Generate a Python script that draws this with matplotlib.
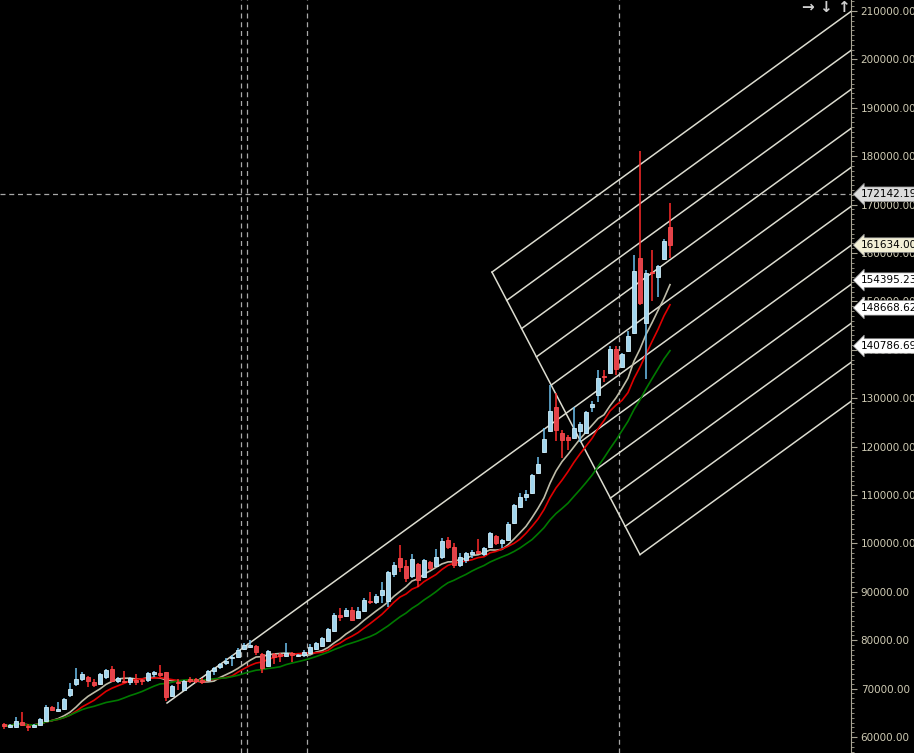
import numpy as np
import pandas as pd
import matplotlib
matplotlib.use('Agg')
import matplotlib.pyplot as plt
from matplotlib.ticker import MultipleLocator, FormatStrFormatter

# 日线 K 线数据 (开 / 高 / 低 / 收)
opens = [62695, 62075, 62075, 63108, 62281, 62075, 62488, 63314, 66207, 65380,
         65794, 68686, 70959, 71992, 72405, 71372, 70959, 72405, 74057, 71579,
         71579, 71372, 71785, 71785, 71785, 73025, 73232, 73438, 68479, 71372,
         69719, 71992, 71992, 71785, 71785, 73645, 74471, 75297, 76331, 76537,
         78190, 78604, 78810, 77157, 74677, 77157, 77157, 76744, 77364, 76744,
         76951, 77364, 78190, 78810, 79843, 81909, 85214, 85008, 86247, 84595,
         86041, 88106, 87900, 89346, 88106, 93685, 96990, 95338, 93272, 95751,
         93065, 96164, 95338, 97197, 100709, 99263, 95545, 96577, 97817, 98436,
         97817, 99263, 101536, 100089, 100709, 104221, 107527, 109593, 110419, 114551,
         118890, 123228, 128186, 122815, 121989, 121782, 123228, 122815, 128186, 130666,
         134591, 135211, 140170, 136451, 139757, 143476, 158970, 145541, 156078, 155045,
         158764, 165375]
highs = [62901, 62695, 64141, 65174, 62695, 62695, 63934, 66620, 66413, 67240,
         68066, 71165, 74264, 73438, 72612, 71992, 73232, 74057, 74677, 72405,
         73645, 72405, 73025, 71992, 73438, 73645, 74884, 73500, 70752, 71992,
         71785, 72405, 72199, 72199, 73851, 74471, 75297, 76331, 76951, 78397,
         79430, 80049, 79017, 77364, 77983, 77364, 77364, 79430, 77570, 77157,
         77983, 79223, 79636, 80669, 82529, 85628, 86660, 86660, 86867, 86867,
         88726, 89966, 89553, 92032, 94305, 96164, 99676, 96577, 97817, 95957,
         96784, 96371, 98850, 101122, 101329, 100089, 98023, 98230, 98643, 100916,
         99263, 102363, 101743, 100916, 104428, 108147, 110419, 111039, 114344, 117856,
         123848, 132732, 131079, 123435, 122402, 128186, 125088, 127360, 129426, 135831,
         135831, 140790, 140790, 139344, 143889, 159590, 181076, 156491, 160623, 157524,
         162896, 170335]
lows = [61661, 61868, 61868, 62281, 61248, 61868, 62281, 63108, 65380, 65174,
        65587, 68273, 70546, 71579, 70339, 70339, 70752, 71992, 71372, 71165,
        71165, 70752, 70752, 70752, 71372, 72405, 72405, 67447, 68273, 69719,
        69513, 71165, 71165, 70959, 71579, 72818, 74057, 74884, 74677, 76331,
        77983, 78397, 76951, 73232, 74471, 75091, 75504, 76537, 75504, 76537,
        76537, 77157, 77983, 78604, 79636, 81702, 83974, 84801, 83974, 84388,
        85834, 87487, 87487, 87693, 86867, 93065, 94098, 92032, 92859, 90999,
        92859, 94512, 95131, 96784, 98850, 94925, 95131, 95957, 96990, 97817,
        97403, 99057, 99676, 99057, 100502, 104015, 107320, 108766, 110213, 114344,
        118684, 123022, 121163, 117650, 119303, 121576, 120956, 122608, 127153, 129219,
        133351, 135004, 134797, 136244, 139550, 143269, 149260, 133971, 150086, 150913,
        158557, 158970]
closes = [62281, 62488, 63314, 62488, 62075, 62488, 63727, 66207, 65587, 65794,
          67860, 69926, 71992, 73025, 71579, 70752, 73025, 73851, 71579, 72199,
          71372, 72199, 71372, 71579, 73232, 73438, 72818, 68273, 70546, 71165,
          71579, 71579, 71579, 71372, 73645, 74264, 75091, 75711, 76537, 77983,
          79017, 79017, 77570, 74264, 77777, 76537, 76744, 77364, 76951, 76951,
          77570, 78604, 79430, 80463, 82322, 85214, 84801, 86247, 84181, 86041,
          88313, 87900, 89140, 90379, 94098, 95545, 95131, 92859, 96784, 92445,
          96577, 94925, 97197, 100502, 99263, 95545, 97197, 98023, 98230, 98023,
          99057, 102156, 100089, 100709, 104015, 107940, 109593, 110213, 114138, 116410,
          121576, 127360, 123435, 121369, 121369, 123848, 124675, 127153, 128806, 134178,
          134384, 140170, 136037, 139137, 142856, 156284, 149673, 155871, 155871, 157318,
          162483, 161634]

# 均线
ma_periods = [9, 12, 20]
ma_colors = ['#BEBCA8', '#E00000', '#007A00']

# 右侧价格标签
tag_values = [172142.19, 161634.00, 154395.23, 148668.62, 140786.69]
tag_colors = ['#DCDCDC', '#F2EFD6', '#FFFFFF', '#FFFFFF', '#FFFFFF']

# 分隔线 / 十字光标
separator_bars = [39.5, 40.5, 50.5]
cross_bar = 102.5
cross_price = 172142.19

# 趋势线与平行通道 (K 线序号, 价格)
trend_start = (27.17, 67030)
trend_slope = 900           # 每根 K 线
channel_step = 8057         # 平行线间距
channel_base = (81.33, 106.0)   # 基线起止 (序号)
channel_n = 11

df = pd.DataFrame({'open': opens, 'high': highs, 'low': lows, 'close': closes})
n = len(df)
idx = np.arange(n)

fig = plt.figure(figsize=(9.14, 7.53), dpi=100, facecolor='black')
ax = fig.add_axes([0, 0, 851 / 914, 1])
ax.set_facecolor('black')
x_min, x_max = -4 / 6, (851 - 4) / 6
ax.set_xlim(x_min, x_max)
ax.set_ylim(56703, 212273)

# 分隔线
for b in separator_bars + [cross_bar]:
    ax.axvline(b, color='#A8A8A8', lw=0.9, dashes=(4, 3), zorder=1)
ax.axhline(cross_price, color='#A8A8A8', lw=0.9, dashes=(4, 3), zorder=1)

# 通道
def trend(x):
    return trend_start[1] + trend_slope * (x - trend_start[0])

half = (channel_n - 1) // 2
b0, b1 = channel_base
for j in range(channel_n):
    off = (half - j) * channel_step
    xs = trend_start[0] if j == half else b0 + (b1 - b0) * j / (channel_n - 1)
    ax.plot([xs, x_max], [trend(xs) + off, trend(x_max) + off],
            color='#DCDCD0', lw=1.1, zorder=2)
ax.plot([b0, b1], [trend(b0) + half * channel_step, trend(b1) - half * channel_step],
        color='#DCDCD0', lw=1.1, zorder=2)

# 均线
for p, c in zip(ma_periods, ma_colors):
    ma = df['close'].rolling(p, min_periods=1).mean()
    ax.plot(idx, ma, color=c, lw=1.2, zorder=3)

# K 线
up = df['close'] >= df['open']
wick_col = np.where(up, '#6EC2F0', '#FF2A2A')
ax.vlines(idx, df['low'], df['high'], colors=wick_col, lw=1.1, zorder=4)
body_bot = df[['open', 'close']].min(axis=1)
body_h = (df['close'] - df['open']).abs().clip(lower=300)
ax.bar(idx[up], body_h[up], bottom=body_bot[up], width=0.75,
       color='#A2D6EF', edgecolor='#D2EEF8', lw=0.6, zorder=5)
ax.bar(idx[~up], body_h[~up], bottom=body_bot[~up], width=0.75,
       color='#E2434C', edgecolor='#FF4A4A', lw=0.6, zorder=5)

# 坐标轴
ax.set_xticks([])
for s in ['left', 'top', 'bottom']:
    ax.spines[s].set_visible(False)
ax.spines['right'].set_color('#A8A494')
ax.yaxis.tick_right()
ax.yaxis.set_major_locator(MultipleLocator(10000))
ax.yaxis.set_minor_locator(MultipleLocator(1000))
ax.yaxis.set_major_formatter(FormatStrFormatter('%.2f'))
ax.tick_params(axis='y', which='major', length=4, color='#A8A494',
               labelcolor='#CFCBB4', labelsize=7.5, pad=3)
ax.tick_params(axis='y', which='minor', length=2.5, color='#A8A494')

# 价格标签
for v, c in zip(tag_values, tag_colors):
    ax.text(1.012, v, '%.2f' % v, transform=ax.get_yaxis_transform(),
            ha='left', va='center', fontsize=7.5, color='black',
            bbox=dict(boxstyle='larrow,pad=0.22', fc=c, ec='#909090', lw=0.5),
            clip_on=False, zorder=10)

fig.text(802 / 914, 1 - 7 / 753, '\u2192 \u2193 \u2191', color='#D0D0D0',
         fontsize=11, fontweight='bold', va='center', ha='left')

plt.savefig('out.png', dpi=100, facecolor='black')
